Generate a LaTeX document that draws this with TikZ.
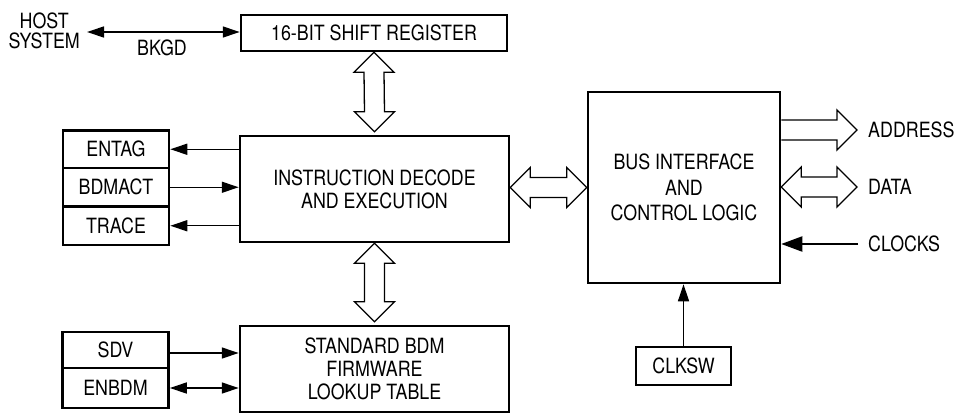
\documentclass[tikz,border=0pt]{standalone}
\usepackage{fontspec}
\setmainfont{TeX Gyre Heros}[FakeStretch=0.85]
\usetikzlibrary{arrows.meta}
\newcommand\fatvv[2]{\draw[fatarrow] (#1) -- ([shift={(20,20)}]#1) -- ([shift={(10,20)}]#1) -- ([shift={(10,-20)}]#2) -- ([shift={(20,-20)}]#2) -- (#2) -- ([shift={(-20,-20)}]#2) -- ([shift={(-10,-20)}]#2) -- ([shift={(-10,20)}]#1) -- ([shift={(-20,20)}]#1) -- cycle;}
\newcommand\fathh[2]{\draw[fatarrow] (#1) -- ([shift={(20,-20)}]#1) -- ([shift={(20,-10)}]#1) -- ([shift={(-20,-10)}]#2) -- ([shift={(-20,-20)}]#2) -- (#2) -- ([shift={(-20,20)}]#2) -- ([shift={(-20,10)}]#2) -- ([shift={(20,10)}]#1) -- ([shift={(20,20)}]#1) -- cycle;}
\newcommand\fatr[2]{\draw[fatarrow] ([shift={(0,-10)}]#1) -- ([shift={(-20,-10)}]#2) -- ([shift={(-20,-20)}]#2) -- (#2) -- ([shift={(-20,20)}]#2) -- ([shift={(-20,10)}]#2) -- ([shift={(0,10)}]#1);}
\begin{document}
\begin{tikzpicture}[x=1pt,y=-1pt,
  txt/.style={font=\fontsize{21}{22.7}\selectfont},
  blk/.style={draw, line width=2.5pt, txt, align=center, inner sep=0pt},
  lbl/.style={txt, inner sep=0pt},
  sig/.style={line width=1.3pt, -{Triangle[length=17pt,width=11pt]}},
  sigb/.style={line width=1.3pt, {Triangle[length=17pt,width=11pt]}-{Triangle[length=17pt,width=11pt]}},
  fatarrow/.style={draw, line width=1.3pt, line join=miter}]
\useasboundingbox (0,0) rectangle (956,415);
% boxes
\node[blk, minimum width=266pt, minimum height=36pt] (sr) at (374,33) {16-BIT SHIFT REGISTER};
\node[blk, minimum width=269pt, minimum height=106pt] (ide) at (374.5,189) {INSTRUCTION DECODE\\AND EXECUTION};
\node[blk, minimum width=269pt, minimum height=86pt] (fw) at (374.5,369) {STANDARD BDM\\FIRMWARE\\LOOKUP TABLE};
\node[blk, minimum width=192pt, minimum height=191pt, font=\fontsize{21}{25.5}\selectfont] (bus) at (684,187.5) {BUS INTERFACE\\AND\\CONTROL LOGIC};
\node[blk, minimum width=95pt, minimum height=38pt] (clksw) at (683.5,366) {CLKSW};
\node[blk, minimum width=106pt, minimum height=37.5pt] (entag) at (116,149.25) {ENTAG};
\node[blk, minimum width=106pt, minimum height=38.5pt] (bdmact) at (116,187.25) {BDMACT};
\node[blk, minimum width=106pt, minimum height=38.5pt] (trace) at (116,225.75) {TRACE};
\node[blk, minimum width=106pt, minimum height=36pt] (sdv) at (115.5,350) {SDV};
\node[blk, minimum width=106pt, minimum height=40pt] (enbdm) at (115.5,388) {ENBDM};
% labels
\node[lbl, align=center, anchor=east, inner xsep=7pt, font=\fontsize{21}{20}\selectfont] (host) at (87,31) {HOST\\SYSTEM};
\node[lbl] (bkgd) at (162,47.5) {BKGD};
\node[lbl, anchor=west] (addr) at (868,130) {ADDRESS};
\node[lbl, anchor=west] (data) at (868,187) {DATA};
\node[lbl, anchor=west] (clk) at (868,244) {CLOCKS};
\coordinate (atip) at (857,130);
\coordinate (dtip) at (857,187);
\coordinate (ctip) at (858,244);
\coordinate (v1a) at (sr.south);
\coordinate (v1b) at ([yshift=3pt]ide.north);
\coordinate (v2a) at (ide.south);
\coordinate (v2b) at ([yshift=3pt]fw.north);
\coordinate (h1a) at (ide.east |- bus.west);
\coordinate (h1b) at (bus.west);
\coordinate (h2a) at (bus.east |- dtip);
\coordinate (h3a) at (bus.east |- atip);
% thin arrows
\draw[sigb] ([yshift=-1pt]host.east) -- ([yshift=-1pt]host.east -| sr.west);
\draw[sig] (ide.west |- entag.east) -- (entag.east);
\draw[sig] (bdmact.east) -- (bdmact.east -| ide.west);
\draw[sig] (ide.west |- trace.east) -- (trace.east);
\draw[sig] ([yshift=-3pt]sdv.east) -- ([yshift=-3pt]sdv.east -| fw.west);
\draw[sigb] (enbdm.east) -- (enbdm.east -| fw.west);
\draw[sig] (clksw.north) -- (clksw.north |- bus.south);
\draw[line width=2pt, -{Triangle[length=21pt,width=15pt]}] (ctip) -- (bus.east |- ctip);
% fat arrows
\fatvv{v1a}{v1b}
\fatvv{v2a}{v2b}
\fathh{h1a}{h1b}
\fathh{h2a}{dtip}
\fatr{h3a}{atip}
\end{tikzpicture}
\end{document}
